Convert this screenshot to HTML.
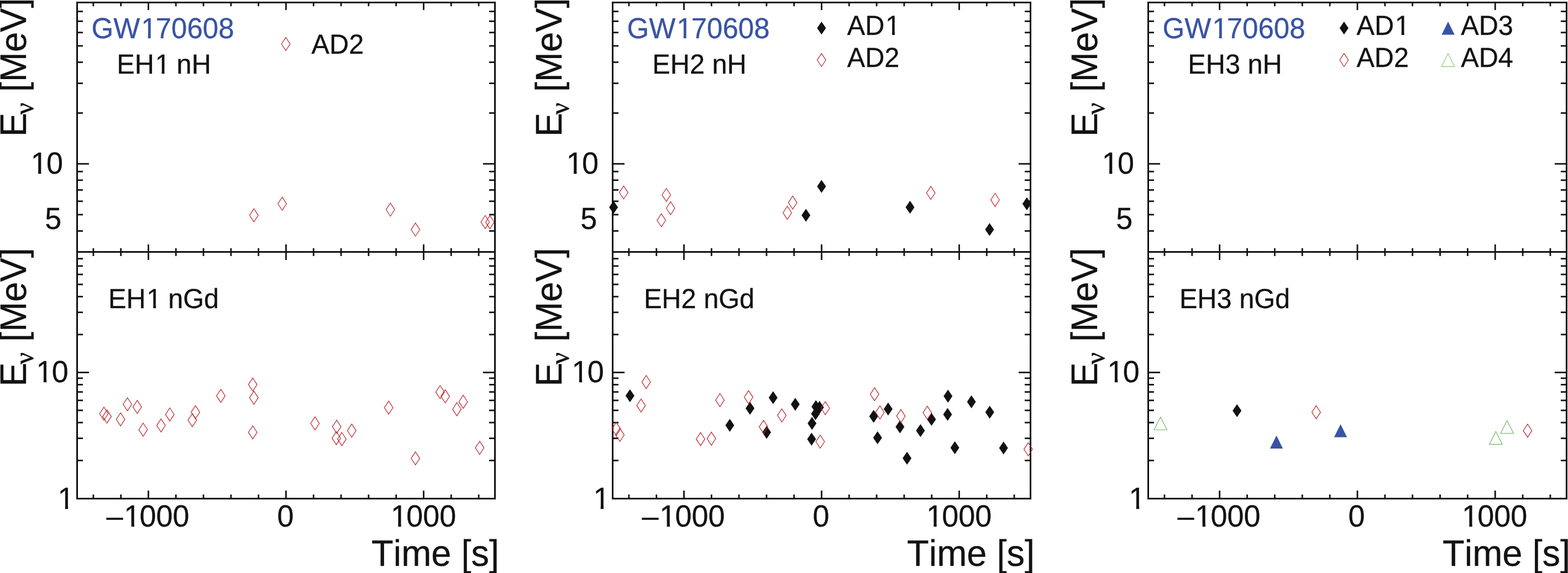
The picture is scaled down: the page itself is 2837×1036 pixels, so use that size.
<!DOCTYPE html>
<html lang="en"><head><meta charset="utf-8"><title>GW170608</title>
<style>html,body{margin:0;padding:0;background:#fff}body{width:2837px;height:1036px}svg{display:block}text{font-kerning:none;text-rendering:geometricPrecision;font-variant-ligatures:none}</style>
</head><body>
<svg width="2837" height="1036" viewBox="0 0 2837 1036" font-family='"Liberation Sans", sans-serif'>
<rect width="2837" height="1036" fill="#fff"/>
<rect x="139.50" y="4.5" width="756.00" height="897.0" fill="none" stroke="#111211" stroke-width="3.0"/>
<line x1="139.50" y1="455.50" x2="895.50" y2="455.50" stroke="#111211" stroke-width="3.0"/>
<line x1="168.90" y1="4.50" x2="168.90" y2="11.30" stroke="#111211" stroke-width="2.8"/>
<line x1="168.90" y1="448.70" x2="168.90" y2="462.90" stroke="#111211" stroke-width="2.8"/>
<line x1="168.90" y1="894.10" x2="168.90" y2="901.50" stroke="#111211" stroke-width="2.8"/>
<line x1="218.70" y1="4.50" x2="218.70" y2="11.30" stroke="#111211" stroke-width="2.8"/>
<line x1="218.70" y1="448.70" x2="218.70" y2="462.90" stroke="#111211" stroke-width="2.8"/>
<line x1="218.70" y1="894.10" x2="218.70" y2="901.50" stroke="#111211" stroke-width="2.8"/>
<line x1="268.50" y1="4.50" x2="268.50" y2="18.20" stroke="#111211" stroke-width="2.8"/>
<line x1="268.50" y1="441.80" x2="268.50" y2="470.00" stroke="#111211" stroke-width="2.8"/>
<line x1="268.50" y1="887.00" x2="268.50" y2="901.50" stroke="#111211" stroke-width="2.8"/>
<line x1="318.30" y1="4.50" x2="318.30" y2="11.30" stroke="#111211" stroke-width="2.8"/>
<line x1="318.30" y1="448.70" x2="318.30" y2="462.90" stroke="#111211" stroke-width="2.8"/>
<line x1="318.30" y1="894.10" x2="318.30" y2="901.50" stroke="#111211" stroke-width="2.8"/>
<line x1="368.10" y1="4.50" x2="368.10" y2="11.30" stroke="#111211" stroke-width="2.8"/>
<line x1="368.10" y1="448.70" x2="368.10" y2="462.90" stroke="#111211" stroke-width="2.8"/>
<line x1="368.10" y1="894.10" x2="368.10" y2="901.50" stroke="#111211" stroke-width="2.8"/>
<line x1="417.90" y1="4.50" x2="417.90" y2="11.30" stroke="#111211" stroke-width="2.8"/>
<line x1="417.90" y1="448.70" x2="417.90" y2="462.90" stroke="#111211" stroke-width="2.8"/>
<line x1="417.90" y1="894.10" x2="417.90" y2="901.50" stroke="#111211" stroke-width="2.8"/>
<line x1="467.70" y1="4.50" x2="467.70" y2="11.30" stroke="#111211" stroke-width="2.8"/>
<line x1="467.70" y1="448.70" x2="467.70" y2="462.90" stroke="#111211" stroke-width="2.8"/>
<line x1="467.70" y1="894.10" x2="467.70" y2="901.50" stroke="#111211" stroke-width="2.8"/>
<line x1="517.50" y1="4.50" x2="517.50" y2="18.20" stroke="#111211" stroke-width="2.8"/>
<line x1="517.50" y1="441.80" x2="517.50" y2="470.00" stroke="#111211" stroke-width="2.8"/>
<line x1="517.50" y1="887.00" x2="517.50" y2="901.50" stroke="#111211" stroke-width="2.8"/>
<line x1="567.30" y1="4.50" x2="567.30" y2="11.30" stroke="#111211" stroke-width="2.8"/>
<line x1="567.30" y1="448.70" x2="567.30" y2="462.90" stroke="#111211" stroke-width="2.8"/>
<line x1="567.30" y1="894.10" x2="567.30" y2="901.50" stroke="#111211" stroke-width="2.8"/>
<line x1="617.10" y1="4.50" x2="617.10" y2="11.30" stroke="#111211" stroke-width="2.8"/>
<line x1="617.10" y1="448.70" x2="617.10" y2="462.90" stroke="#111211" stroke-width="2.8"/>
<line x1="617.10" y1="894.10" x2="617.10" y2="901.50" stroke="#111211" stroke-width="2.8"/>
<line x1="666.90" y1="4.50" x2="666.90" y2="11.30" stroke="#111211" stroke-width="2.8"/>
<line x1="666.90" y1="448.70" x2="666.90" y2="462.90" stroke="#111211" stroke-width="2.8"/>
<line x1="666.90" y1="894.10" x2="666.90" y2="901.50" stroke="#111211" stroke-width="2.8"/>
<line x1="716.70" y1="4.50" x2="716.70" y2="11.30" stroke="#111211" stroke-width="2.8"/>
<line x1="716.70" y1="448.70" x2="716.70" y2="462.90" stroke="#111211" stroke-width="2.8"/>
<line x1="716.70" y1="894.10" x2="716.70" y2="901.50" stroke="#111211" stroke-width="2.8"/>
<line x1="766.50" y1="4.50" x2="766.50" y2="18.20" stroke="#111211" stroke-width="2.8"/>
<line x1="766.50" y1="441.80" x2="766.50" y2="470.00" stroke="#111211" stroke-width="2.8"/>
<line x1="766.50" y1="887.00" x2="766.50" y2="901.50" stroke="#111211" stroke-width="2.8"/>
<line x1="816.30" y1="4.50" x2="816.30" y2="11.30" stroke="#111211" stroke-width="2.8"/>
<line x1="816.30" y1="448.70" x2="816.30" y2="462.90" stroke="#111211" stroke-width="2.8"/>
<line x1="816.30" y1="894.10" x2="816.30" y2="901.50" stroke="#111211" stroke-width="2.8"/>
<line x1="866.10" y1="4.50" x2="866.10" y2="11.30" stroke="#111211" stroke-width="2.8"/>
<line x1="866.10" y1="448.70" x2="866.10" y2="462.90" stroke="#111211" stroke-width="2.8"/>
<line x1="866.10" y1="894.10" x2="866.10" y2="901.50" stroke="#111211" stroke-width="2.8"/>
<line x1="139.50" y1="417.60" x2="150.00" y2="417.60" stroke="#111211" stroke-width="2.8"/>
<line x1="885.00" y1="417.60" x2="895.50" y2="417.60" stroke="#111211" stroke-width="2.8"/>
<line x1="139.50" y1="388.04" x2="150.00" y2="388.04" stroke="#111211" stroke-width="2.8"/>
<line x1="885.00" y1="388.04" x2="895.50" y2="388.04" stroke="#111211" stroke-width="2.8"/>
<line x1="139.50" y1="363.88" x2="150.00" y2="363.88" stroke="#111211" stroke-width="2.8"/>
<line x1="885.00" y1="363.88" x2="895.50" y2="363.88" stroke="#111211" stroke-width="2.8"/>
<line x1="139.50" y1="343.46" x2="150.00" y2="343.46" stroke="#111211" stroke-width="2.8"/>
<line x1="885.00" y1="343.46" x2="895.50" y2="343.46" stroke="#111211" stroke-width="2.8"/>
<line x1="139.50" y1="325.76" x2="150.00" y2="325.76" stroke="#111211" stroke-width="2.8"/>
<line x1="885.00" y1="325.76" x2="895.50" y2="325.76" stroke="#111211" stroke-width="2.8"/>
<line x1="139.50" y1="310.16" x2="150.00" y2="310.16" stroke="#111211" stroke-width="2.8"/>
<line x1="885.00" y1="310.16" x2="895.50" y2="310.16" stroke="#111211" stroke-width="2.8"/>
<line x1="139.50" y1="296.20" x2="161.00" y2="296.20" stroke="#111211" stroke-width="2.8"/>
<line x1="874.00" y1="296.20" x2="895.50" y2="296.20" stroke="#111211" stroke-width="2.8"/>
<line x1="139.50" y1="204.36" x2="150.00" y2="204.36" stroke="#111211" stroke-width="2.8"/>
<line x1="885.00" y1="204.36" x2="895.50" y2="204.36" stroke="#111211" stroke-width="2.8"/>
<line x1="139.50" y1="150.64" x2="150.00" y2="150.64" stroke="#111211" stroke-width="2.8"/>
<line x1="885.00" y1="150.64" x2="895.50" y2="150.64" stroke="#111211" stroke-width="2.8"/>
<line x1="139.50" y1="112.53" x2="150.00" y2="112.53" stroke="#111211" stroke-width="2.8"/>
<line x1="885.00" y1="112.53" x2="895.50" y2="112.53" stroke="#111211" stroke-width="2.8"/>
<line x1="139.50" y1="82.97" x2="150.00" y2="82.97" stroke="#111211" stroke-width="2.8"/>
<line x1="885.00" y1="82.97" x2="895.50" y2="82.97" stroke="#111211" stroke-width="2.8"/>
<line x1="139.50" y1="58.81" x2="150.00" y2="58.81" stroke="#111211" stroke-width="2.8"/>
<line x1="885.00" y1="58.81" x2="895.50" y2="58.81" stroke="#111211" stroke-width="2.8"/>
<line x1="139.50" y1="38.39" x2="150.00" y2="38.39" stroke="#111211" stroke-width="2.8"/>
<line x1="885.00" y1="38.39" x2="895.50" y2="38.39" stroke="#111211" stroke-width="2.8"/>
<line x1="139.50" y1="20.69" x2="150.00" y2="20.69" stroke="#111211" stroke-width="2.8"/>
<line x1="885.00" y1="20.69" x2="895.50" y2="20.69" stroke="#111211" stroke-width="2.8"/>
<line x1="139.50" y1="832.60" x2="150.00" y2="832.60" stroke="#111211" stroke-width="2.8"/>
<line x1="885.00" y1="832.60" x2="895.50" y2="832.60" stroke="#111211" stroke-width="2.8"/>
<line x1="139.50" y1="792.49" x2="150.00" y2="792.49" stroke="#111211" stroke-width="2.8"/>
<line x1="885.00" y1="792.49" x2="895.50" y2="792.49" stroke="#111211" stroke-width="2.8"/>
<line x1="139.50" y1="764.03" x2="150.00" y2="764.03" stroke="#111211" stroke-width="2.8"/>
<line x1="885.00" y1="764.03" x2="895.50" y2="764.03" stroke="#111211" stroke-width="2.8"/>
<line x1="139.50" y1="741.96" x2="150.00" y2="741.96" stroke="#111211" stroke-width="2.8"/>
<line x1="885.00" y1="741.96" x2="895.50" y2="741.96" stroke="#111211" stroke-width="2.8"/>
<line x1="139.50" y1="723.93" x2="150.00" y2="723.93" stroke="#111211" stroke-width="2.8"/>
<line x1="885.00" y1="723.93" x2="895.50" y2="723.93" stroke="#111211" stroke-width="2.8"/>
<line x1="139.50" y1="708.68" x2="150.00" y2="708.68" stroke="#111211" stroke-width="2.8"/>
<line x1="885.00" y1="708.68" x2="895.50" y2="708.68" stroke="#111211" stroke-width="2.8"/>
<line x1="139.50" y1="695.47" x2="150.00" y2="695.47" stroke="#111211" stroke-width="2.8"/>
<line x1="885.00" y1="695.47" x2="895.50" y2="695.47" stroke="#111211" stroke-width="2.8"/>
<line x1="139.50" y1="683.82" x2="150.00" y2="683.82" stroke="#111211" stroke-width="2.8"/>
<line x1="885.00" y1="683.82" x2="895.50" y2="683.82" stroke="#111211" stroke-width="2.8"/>
<line x1="139.50" y1="673.40" x2="161.00" y2="673.40" stroke="#111211" stroke-width="2.8"/>
<line x1="874.00" y1="673.40" x2="895.50" y2="673.40" stroke="#111211" stroke-width="2.8"/>
<line x1="139.50" y1="604.84" x2="150.00" y2="604.84" stroke="#111211" stroke-width="2.8"/>
<line x1="885.00" y1="604.84" x2="895.50" y2="604.84" stroke="#111211" stroke-width="2.8"/>
<line x1="139.50" y1="564.73" x2="150.00" y2="564.73" stroke="#111211" stroke-width="2.8"/>
<line x1="885.00" y1="564.73" x2="895.50" y2="564.73" stroke="#111211" stroke-width="2.8"/>
<line x1="139.50" y1="536.27" x2="150.00" y2="536.27" stroke="#111211" stroke-width="2.8"/>
<line x1="885.00" y1="536.27" x2="895.50" y2="536.27" stroke="#111211" stroke-width="2.8"/>
<line x1="139.50" y1="514.20" x2="150.00" y2="514.20" stroke="#111211" stroke-width="2.8"/>
<line x1="885.00" y1="514.20" x2="895.50" y2="514.20" stroke="#111211" stroke-width="2.8"/>
<line x1="139.50" y1="496.17" x2="150.00" y2="496.17" stroke="#111211" stroke-width="2.8"/>
<line x1="885.00" y1="496.17" x2="895.50" y2="496.17" stroke="#111211" stroke-width="2.8"/>
<line x1="139.50" y1="480.92" x2="150.00" y2="480.92" stroke="#111211" stroke-width="2.8"/>
<line x1="885.00" y1="480.92" x2="895.50" y2="480.92" stroke="#111211" stroke-width="2.8"/>
<line x1="139.50" y1="467.71" x2="150.00" y2="467.71" stroke="#111211" stroke-width="2.8"/>
<line x1="885.00" y1="467.71" x2="895.50" y2="467.71" stroke="#111211" stroke-width="2.8"/>
<text transform="translate(53.84 314.00) scale(1 1.025)" dx="1.92 -1.92" font-size="54" fill="#111211" stroke="#111211" stroke-width="0.3" clip-path="url(#c0)">10</text>
<text transform="translate(81.17 414.00) scale(1 1.025)" font-size="54" fill="#111211" stroke="#111211" stroke-width="0.3">5</text>
<text transform="translate(63.64 691.00) scale(1 1.025)" dx="1.92 -1.92" font-size="54" fill="#111211" stroke="#111211" stroke-width="0.3" clip-path="url(#c1)">10</text>
<text transform="translate(102.57 919.95) scale(1 1.025)" dx="1.92" font-size="54" fill="#111211" stroke="#111211" stroke-width="0.3" clip-path="url(#c2)">1</text>
<text transform="translate(192.42 951.50) scale(1 1.025)" dx="0 1.92 -1.92 0 0" font-size="54" fill="#111211" stroke="#111211" stroke-width="0.3" clip-path="url(#c3)">–1000</text>
<text transform="translate(501.38 951.50) scale(1 1.025)" font-size="54" fill="#111211" stroke="#111211" stroke-width="0.3">0</text>
<text transform="translate(705.14 951.50) scale(1 1.025)" dx="1.92 -1.92 0 0" font-size="54" fill="#111211" stroke="#111211" stroke-width="0.3" clip-path="url(#c4)">1000</text>
<text transform="translate(671.98 1022.90) scale(1 1.025)" font-size="65" fill="#111211" stroke="#111211" stroke-width="0.3">Time [s]</text>
<text transform="translate(46.55 247.20) rotate(-90) scale(1 1.03)" font-size="65" fill="#111211" stroke="#111211" stroke-width="0.3">E<tspan x="40.2" dy="12.91" font-size="47" stroke-width="0.6" font-family='"Liberation Serif", "DejaVu Serif", serif'>ν</tspan><tspan x="62.84" dy="-12.91"> [MeV]</tspan></text>
<text transform="translate(46.55 698.80) rotate(-90) scale(1 1.03)" font-size="65" fill="#111211" stroke="#111211" stroke-width="0.3">E<tspan x="40.2" dy="12.91" font-size="47" stroke-width="0.6" font-family='"Liberation Serif", "DejaVu Serif", serif'>ν</tspan><tspan x="62.84" dy="-12.91"> [MeV]</tspan></text>
<text transform="translate(165.50 68.95) scale(1 1.025)" dx="0 0 1.82 -1.82 0 0 0 0" font-size="51" fill="#3953a4" stroke="#3953a4" stroke-width="0.3" clip-path="url(#c5)">GW170608</text>
<text transform="translate(211.30 132.55) scale(1 1.025)" dx="0 0 1.73 -1.73 0 0" font-size="48.7" fill="#111211" stroke="#111211" stroke-width="0.3" clip-path="url(#c6)">EH1 nH</text>
<text transform="translate(195.90 556.65) scale(1 1.025)" dx="0 0 1.73 -1.73 0 0 0" font-size="48.7" fill="#111211" stroke="#111211" stroke-width="0.3" clip-path="url(#c7)">EH1 nGd</text>
<rect x="1108.50" y="4.5" width="756.00" height="897.0" fill="none" stroke="#111211" stroke-width="3.0"/>
<line x1="1108.50" y1="455.50" x2="1864.50" y2="455.50" stroke="#111211" stroke-width="3.0"/>
<line x1="1137.90" y1="4.50" x2="1137.90" y2="11.30" stroke="#111211" stroke-width="2.8"/>
<line x1="1137.90" y1="448.70" x2="1137.90" y2="462.90" stroke="#111211" stroke-width="2.8"/>
<line x1="1137.90" y1="894.10" x2="1137.90" y2="901.50" stroke="#111211" stroke-width="2.8"/>
<line x1="1187.70" y1="4.50" x2="1187.70" y2="11.30" stroke="#111211" stroke-width="2.8"/>
<line x1="1187.70" y1="448.70" x2="1187.70" y2="462.90" stroke="#111211" stroke-width="2.8"/>
<line x1="1187.70" y1="894.10" x2="1187.70" y2="901.50" stroke="#111211" stroke-width="2.8"/>
<line x1="1237.50" y1="4.50" x2="1237.50" y2="18.20" stroke="#111211" stroke-width="2.8"/>
<line x1="1237.50" y1="441.80" x2="1237.50" y2="470.00" stroke="#111211" stroke-width="2.8"/>
<line x1="1237.50" y1="887.00" x2="1237.50" y2="901.50" stroke="#111211" stroke-width="2.8"/>
<line x1="1287.30" y1="4.50" x2="1287.30" y2="11.30" stroke="#111211" stroke-width="2.8"/>
<line x1="1287.30" y1="448.70" x2="1287.30" y2="462.90" stroke="#111211" stroke-width="2.8"/>
<line x1="1287.30" y1="894.10" x2="1287.30" y2="901.50" stroke="#111211" stroke-width="2.8"/>
<line x1="1337.10" y1="4.50" x2="1337.10" y2="11.30" stroke="#111211" stroke-width="2.8"/>
<line x1="1337.10" y1="448.70" x2="1337.10" y2="462.90" stroke="#111211" stroke-width="2.8"/>
<line x1="1337.10" y1="894.10" x2="1337.10" y2="901.50" stroke="#111211" stroke-width="2.8"/>
<line x1="1386.90" y1="4.50" x2="1386.90" y2="11.30" stroke="#111211" stroke-width="2.8"/>
<line x1="1386.90" y1="448.70" x2="1386.90" y2="462.90" stroke="#111211" stroke-width="2.8"/>
<line x1="1386.90" y1="894.10" x2="1386.90" y2="901.50" stroke="#111211" stroke-width="2.8"/>
<line x1="1436.70" y1="4.50" x2="1436.70" y2="11.30" stroke="#111211" stroke-width="2.8"/>
<line x1="1436.70" y1="448.70" x2="1436.70" y2="462.90" stroke="#111211" stroke-width="2.8"/>
<line x1="1436.70" y1="894.10" x2="1436.70" y2="901.50" stroke="#111211" stroke-width="2.8"/>
<line x1="1486.50" y1="4.50" x2="1486.50" y2="18.20" stroke="#111211" stroke-width="2.8"/>
<line x1="1486.50" y1="441.80" x2="1486.50" y2="470.00" stroke="#111211" stroke-width="2.8"/>
<line x1="1486.50" y1="887.00" x2="1486.50" y2="901.50" stroke="#111211" stroke-width="2.8"/>
<line x1="1536.30" y1="4.50" x2="1536.30" y2="11.30" stroke="#111211" stroke-width="2.8"/>
<line x1="1536.30" y1="448.70" x2="1536.30" y2="462.90" stroke="#111211" stroke-width="2.8"/>
<line x1="1536.30" y1="894.10" x2="1536.30" y2="901.50" stroke="#111211" stroke-width="2.8"/>
<line x1="1586.10" y1="4.50" x2="1586.10" y2="11.30" stroke="#111211" stroke-width="2.8"/>
<line x1="1586.10" y1="448.70" x2="1586.10" y2="462.90" stroke="#111211" stroke-width="2.8"/>
<line x1="1586.10" y1="894.10" x2="1586.10" y2="901.50" stroke="#111211" stroke-width="2.8"/>
<line x1="1635.90" y1="4.50" x2="1635.90" y2="11.30" stroke="#111211" stroke-width="2.8"/>
<line x1="1635.90" y1="448.70" x2="1635.90" y2="462.90" stroke="#111211" stroke-width="2.8"/>
<line x1="1635.90" y1="894.10" x2="1635.90" y2="901.50" stroke="#111211" stroke-width="2.8"/>
<line x1="1685.70" y1="4.50" x2="1685.70" y2="11.30" stroke="#111211" stroke-width="2.8"/>
<line x1="1685.70" y1="448.70" x2="1685.70" y2="462.90" stroke="#111211" stroke-width="2.8"/>
<line x1="1685.70" y1="894.10" x2="1685.70" y2="901.50" stroke="#111211" stroke-width="2.8"/>
<line x1="1735.50" y1="4.50" x2="1735.50" y2="18.20" stroke="#111211" stroke-width="2.8"/>
<line x1="1735.50" y1="441.80" x2="1735.50" y2="470.00" stroke="#111211" stroke-width="2.8"/>
<line x1="1735.50" y1="887.00" x2="1735.50" y2="901.50" stroke="#111211" stroke-width="2.8"/>
<line x1="1785.30" y1="4.50" x2="1785.30" y2="11.30" stroke="#111211" stroke-width="2.8"/>
<line x1="1785.30" y1="448.70" x2="1785.30" y2="462.90" stroke="#111211" stroke-width="2.8"/>
<line x1="1785.30" y1="894.10" x2="1785.30" y2="901.50" stroke="#111211" stroke-width="2.8"/>
<line x1="1835.10" y1="4.50" x2="1835.10" y2="11.30" stroke="#111211" stroke-width="2.8"/>
<line x1="1835.10" y1="448.70" x2="1835.10" y2="462.90" stroke="#111211" stroke-width="2.8"/>
<line x1="1835.10" y1="894.10" x2="1835.10" y2="901.50" stroke="#111211" stroke-width="2.8"/>
<line x1="1108.50" y1="417.60" x2="1119.00" y2="417.60" stroke="#111211" stroke-width="2.8"/>
<line x1="1854.00" y1="417.60" x2="1864.50" y2="417.60" stroke="#111211" stroke-width="2.8"/>
<line x1="1108.50" y1="388.04" x2="1119.00" y2="388.04" stroke="#111211" stroke-width="2.8"/>
<line x1="1854.00" y1="388.04" x2="1864.50" y2="388.04" stroke="#111211" stroke-width="2.8"/>
<line x1="1108.50" y1="363.88" x2="1119.00" y2="363.88" stroke="#111211" stroke-width="2.8"/>
<line x1="1854.00" y1="363.88" x2="1864.50" y2="363.88" stroke="#111211" stroke-width="2.8"/>
<line x1="1108.50" y1="343.46" x2="1119.00" y2="343.46" stroke="#111211" stroke-width="2.8"/>
<line x1="1854.00" y1="343.46" x2="1864.50" y2="343.46" stroke="#111211" stroke-width="2.8"/>
<line x1="1108.50" y1="325.76" x2="1119.00" y2="325.76" stroke="#111211" stroke-width="2.8"/>
<line x1="1854.00" y1="325.76" x2="1864.50" y2="325.76" stroke="#111211" stroke-width="2.8"/>
<line x1="1108.50" y1="310.16" x2="1119.00" y2="310.16" stroke="#111211" stroke-width="2.8"/>
<line x1="1854.00" y1="310.16" x2="1864.50" y2="310.16" stroke="#111211" stroke-width="2.8"/>
<line x1="1108.50" y1="296.20" x2="1130.00" y2="296.20" stroke="#111211" stroke-width="2.8"/>
<line x1="1843.00" y1="296.20" x2="1864.50" y2="296.20" stroke="#111211" stroke-width="2.8"/>
<line x1="1108.50" y1="204.36" x2="1119.00" y2="204.36" stroke="#111211" stroke-width="2.8"/>
<line x1="1854.00" y1="204.36" x2="1864.50" y2="204.36" stroke="#111211" stroke-width="2.8"/>
<line x1="1108.50" y1="150.64" x2="1119.00" y2="150.64" stroke="#111211" stroke-width="2.8"/>
<line x1="1854.00" y1="150.64" x2="1864.50" y2="150.64" stroke="#111211" stroke-width="2.8"/>
<line x1="1108.50" y1="112.53" x2="1119.00" y2="112.53" stroke="#111211" stroke-width="2.8"/>
<line x1="1854.00" y1="112.53" x2="1864.50" y2="112.53" stroke="#111211" stroke-width="2.8"/>
<line x1="1108.50" y1="82.97" x2="1119.00" y2="82.97" stroke="#111211" stroke-width="2.8"/>
<line x1="1854.00" y1="82.97" x2="1864.50" y2="82.97" stroke="#111211" stroke-width="2.8"/>
<line x1="1108.50" y1="58.81" x2="1119.00" y2="58.81" stroke="#111211" stroke-width="2.8"/>
<line x1="1854.00" y1="58.81" x2="1864.50" y2="58.81" stroke="#111211" stroke-width="2.8"/>
<line x1="1108.50" y1="38.39" x2="1119.00" y2="38.39" stroke="#111211" stroke-width="2.8"/>
<line x1="1854.00" y1="38.39" x2="1864.50" y2="38.39" stroke="#111211" stroke-width="2.8"/>
<line x1="1108.50" y1="20.69" x2="1119.00" y2="20.69" stroke="#111211" stroke-width="2.8"/>
<line x1="1854.00" y1="20.69" x2="1864.50" y2="20.69" stroke="#111211" stroke-width="2.8"/>
<line x1="1108.50" y1="832.60" x2="1119.00" y2="832.60" stroke="#111211" stroke-width="2.8"/>
<line x1="1854.00" y1="832.60" x2="1864.50" y2="832.60" stroke="#111211" stroke-width="2.8"/>
<line x1="1108.50" y1="792.49" x2="1119.00" y2="792.49" stroke="#111211" stroke-width="2.8"/>
<line x1="1854.00" y1="792.49" x2="1864.50" y2="792.49" stroke="#111211" stroke-width="2.8"/>
<line x1="1108.50" y1="764.03" x2="1119.00" y2="764.03" stroke="#111211" stroke-width="2.8"/>
<line x1="1854.00" y1="764.03" x2="1864.50" y2="764.03" stroke="#111211" stroke-width="2.8"/>
<line x1="1108.50" y1="741.96" x2="1119.00" y2="741.96" stroke="#111211" stroke-width="2.8"/>
<line x1="1854.00" y1="741.96" x2="1864.50" y2="741.96" stroke="#111211" stroke-width="2.8"/>
<line x1="1108.50" y1="723.93" x2="1119.00" y2="723.93" stroke="#111211" stroke-width="2.8"/>
<line x1="1854.00" y1="723.93" x2="1864.50" y2="723.93" stroke="#111211" stroke-width="2.8"/>
<line x1="1108.50" y1="708.68" x2="1119.00" y2="708.68" stroke="#111211" stroke-width="2.8"/>
<line x1="1854.00" y1="708.68" x2="1864.50" y2="708.68" stroke="#111211" stroke-width="2.8"/>
<line x1="1108.50" y1="695.47" x2="1119.00" y2="695.47" stroke="#111211" stroke-width="2.8"/>
<line x1="1854.00" y1="695.47" x2="1864.50" y2="695.47" stroke="#111211" stroke-width="2.8"/>
<line x1="1108.50" y1="683.82" x2="1119.00" y2="683.82" stroke="#111211" stroke-width="2.8"/>
<line x1="1854.00" y1="683.82" x2="1864.50" y2="683.82" stroke="#111211" stroke-width="2.8"/>
<line x1="1108.50" y1="673.40" x2="1130.00" y2="673.40" stroke="#111211" stroke-width="2.8"/>
<line x1="1843.00" y1="673.40" x2="1864.50" y2="673.40" stroke="#111211" stroke-width="2.8"/>
<line x1="1108.50" y1="604.84" x2="1119.00" y2="604.84" stroke="#111211" stroke-width="2.8"/>
<line x1="1854.00" y1="604.84" x2="1864.50" y2="604.84" stroke="#111211" stroke-width="2.8"/>
<line x1="1108.50" y1="564.73" x2="1119.00" y2="564.73" stroke="#111211" stroke-width="2.8"/>
<line x1="1854.00" y1="564.73" x2="1864.50" y2="564.73" stroke="#111211" stroke-width="2.8"/>
<line x1="1108.50" y1="536.27" x2="1119.00" y2="536.27" stroke="#111211" stroke-width="2.8"/>
<line x1="1854.00" y1="536.27" x2="1864.50" y2="536.27" stroke="#111211" stroke-width="2.8"/>
<line x1="1108.50" y1="514.20" x2="1119.00" y2="514.20" stroke="#111211" stroke-width="2.8"/>
<line x1="1854.00" y1="514.20" x2="1864.50" y2="514.20" stroke="#111211" stroke-width="2.8"/>
<line x1="1108.50" y1="496.17" x2="1119.00" y2="496.17" stroke="#111211" stroke-width="2.8"/>
<line x1="1854.00" y1="496.17" x2="1864.50" y2="496.17" stroke="#111211" stroke-width="2.8"/>
<line x1="1108.50" y1="480.92" x2="1119.00" y2="480.92" stroke="#111211" stroke-width="2.8"/>
<line x1="1854.00" y1="480.92" x2="1864.50" y2="480.92" stroke="#111211" stroke-width="2.8"/>
<line x1="1108.50" y1="467.71" x2="1119.00" y2="467.71" stroke="#111211" stroke-width="2.8"/>
<line x1="1854.00" y1="467.71" x2="1864.50" y2="467.71" stroke="#111211" stroke-width="2.8"/>
<text transform="translate(1022.84 314.00) scale(1 1.025)" dx="1.92 -1.92" font-size="54" fill="#111211" stroke="#111211" stroke-width="0.3" clip-path="url(#c8)">10</text>
<text transform="translate(1050.17 414.00) scale(1 1.025)" font-size="54" fill="#111211" stroke="#111211" stroke-width="0.3">5</text>
<text transform="translate(1032.64 691.00) scale(1 1.025)" dx="1.92 -1.92" font-size="54" fill="#111211" stroke="#111211" stroke-width="0.3" clip-path="url(#c9)">10</text>
<text transform="translate(1071.57 919.95) scale(1 1.025)" dx="1.92" font-size="54" fill="#111211" stroke="#111211" stroke-width="0.3" clip-path="url(#c10)">1</text>
<text transform="translate(1161.42 951.50) scale(1 1.025)" dx="0 1.92 -1.92 0 0" font-size="54" fill="#111211" stroke="#111211" stroke-width="0.3" clip-path="url(#c11)">–1000</text>
<text transform="translate(1470.38 951.50) scale(1 1.025)" font-size="54" fill="#111211" stroke="#111211" stroke-width="0.3">0</text>
<text transform="translate(1674.14 951.50) scale(1 1.025)" dx="1.92 -1.92 0 0" font-size="54" fill="#111211" stroke="#111211" stroke-width="0.3" clip-path="url(#c12)">1000</text>
<text transform="translate(1640.98 1022.90) scale(1 1.025)" font-size="65" fill="#111211" stroke="#111211" stroke-width="0.3">Time [s]</text>
<text transform="translate(1015.55 247.20) rotate(-90) scale(1 1.03)" font-size="65" fill="#111211" stroke="#111211" stroke-width="0.3">E<tspan x="40.2" dy="12.91" font-size="47" stroke-width="0.6" font-family='"Liberation Serif", "DejaVu Serif", serif'>ν</tspan><tspan x="62.84" dy="-12.91"> [MeV]</tspan></text>
<text transform="translate(1015.55 698.80) rotate(-90) scale(1 1.03)" font-size="65" fill="#111211" stroke="#111211" stroke-width="0.3">E<tspan x="40.2" dy="12.91" font-size="47" stroke-width="0.6" font-family='"Liberation Serif", "DejaVu Serif", serif'>ν</tspan><tspan x="62.84" dy="-12.91"> [MeV]</tspan></text>
<text transform="translate(1134.50 68.95) scale(1 1.025)" dx="0 0 1.82 -1.82 0 0 0 0" font-size="51" fill="#3953a4" stroke="#3953a4" stroke-width="0.3" clip-path="url(#c13)">GW170608</text>
<text transform="translate(1180.30 132.55) scale(1 1.025)" font-size="48.7" fill="#111211" stroke="#111211" stroke-width="0.3">EH2 nH</text>
<text transform="translate(1164.90 556.65) scale(1 1.025)" font-size="48.7" fill="#111211" stroke="#111211" stroke-width="0.3">EH2 nGd</text>
<rect x="2077.50" y="4.5" width="756.90" height="897.0" fill="none" stroke="#111211" stroke-width="3.0"/>
<line x1="2077.50" y1="455.50" x2="2834.40" y2="455.50" stroke="#111211" stroke-width="3.0"/>
<line x1="2106.93" y1="4.50" x2="2106.93" y2="11.30" stroke="#111211" stroke-width="2.8"/>
<line x1="2106.93" y1="448.70" x2="2106.93" y2="462.90" stroke="#111211" stroke-width="2.8"/>
<line x1="2106.93" y1="894.10" x2="2106.93" y2="901.50" stroke="#111211" stroke-width="2.8"/>
<line x1="2156.79" y1="4.50" x2="2156.79" y2="11.30" stroke="#111211" stroke-width="2.8"/>
<line x1="2156.79" y1="448.70" x2="2156.79" y2="462.90" stroke="#111211" stroke-width="2.8"/>
<line x1="2156.79" y1="894.10" x2="2156.79" y2="901.50" stroke="#111211" stroke-width="2.8"/>
<line x1="2206.65" y1="4.50" x2="2206.65" y2="18.20" stroke="#111211" stroke-width="2.8"/>
<line x1="2206.65" y1="441.80" x2="2206.65" y2="470.00" stroke="#111211" stroke-width="2.8"/>
<line x1="2206.65" y1="887.00" x2="2206.65" y2="901.50" stroke="#111211" stroke-width="2.8"/>
<line x1="2256.51" y1="4.50" x2="2256.51" y2="11.30" stroke="#111211" stroke-width="2.8"/>
<line x1="2256.51" y1="448.70" x2="2256.51" y2="462.90" stroke="#111211" stroke-width="2.8"/>
<line x1="2256.51" y1="894.10" x2="2256.51" y2="901.50" stroke="#111211" stroke-width="2.8"/>
<line x1="2306.37" y1="4.50" x2="2306.37" y2="11.30" stroke="#111211" stroke-width="2.8"/>
<line x1="2306.37" y1="448.70" x2="2306.37" y2="462.90" stroke="#111211" stroke-width="2.8"/>
<line x1="2306.37" y1="894.10" x2="2306.37" y2="901.50" stroke="#111211" stroke-width="2.8"/>
<line x1="2356.23" y1="4.50" x2="2356.23" y2="11.30" stroke="#111211" stroke-width="2.8"/>
<line x1="2356.23" y1="448.70" x2="2356.23" y2="462.90" stroke="#111211" stroke-width="2.8"/>
<line x1="2356.23" y1="894.10" x2="2356.23" y2="901.50" stroke="#111211" stroke-width="2.8"/>
<line x1="2406.09" y1="4.50" x2="2406.09" y2="11.30" stroke="#111211" stroke-width="2.8"/>
<line x1="2406.09" y1="448.70" x2="2406.09" y2="462.90" stroke="#111211" stroke-width="2.8"/>
<line x1="2406.09" y1="894.10" x2="2406.09" y2="901.50" stroke="#111211" stroke-width="2.8"/>
<line x1="2455.95" y1="4.50" x2="2455.95" y2="18.20" stroke="#111211" stroke-width="2.8"/>
<line x1="2455.95" y1="441.80" x2="2455.95" y2="470.00" stroke="#111211" stroke-width="2.8"/>
<line x1="2455.95" y1="887.00" x2="2455.95" y2="901.50" stroke="#111211" stroke-width="2.8"/>
<line x1="2505.81" y1="4.50" x2="2505.81" y2="11.30" stroke="#111211" stroke-width="2.8"/>
<line x1="2505.81" y1="448.70" x2="2505.81" y2="462.90" stroke="#111211" stroke-width="2.8"/>
<line x1="2505.81" y1="894.10" x2="2505.81" y2="901.50" stroke="#111211" stroke-width="2.8"/>
<line x1="2555.67" y1="4.50" x2="2555.67" y2="11.30" stroke="#111211" stroke-width="2.8"/>
<line x1="2555.67" y1="448.70" x2="2555.67" y2="462.90" stroke="#111211" stroke-width="2.8"/>
<line x1="2555.67" y1="894.10" x2="2555.67" y2="901.50" stroke="#111211" stroke-width="2.8"/>
<line x1="2605.53" y1="4.50" x2="2605.53" y2="11.30" stroke="#111211" stroke-width="2.8"/>
<line x1="2605.53" y1="448.70" x2="2605.53" y2="462.90" stroke="#111211" stroke-width="2.8"/>
<line x1="2605.53" y1="894.10" x2="2605.53" y2="901.50" stroke="#111211" stroke-width="2.8"/>
<line x1="2655.39" y1="4.50" x2="2655.39" y2="11.30" stroke="#111211" stroke-width="2.8"/>
<line x1="2655.39" y1="448.70" x2="2655.39" y2="462.90" stroke="#111211" stroke-width="2.8"/>
<line x1="2655.39" y1="894.10" x2="2655.39" y2="901.50" stroke="#111211" stroke-width="2.8"/>
<line x1="2705.25" y1="4.50" x2="2705.25" y2="18.20" stroke="#111211" stroke-width="2.8"/>
<line x1="2705.25" y1="441.80" x2="2705.25" y2="470.00" stroke="#111211" stroke-width="2.8"/>
<line x1="2705.25" y1="887.00" x2="2705.25" y2="901.50" stroke="#111211" stroke-width="2.8"/>
<line x1="2755.11" y1="4.50" x2="2755.11" y2="11.30" stroke="#111211" stroke-width="2.8"/>
<line x1="2755.11" y1="448.70" x2="2755.11" y2="462.90" stroke="#111211" stroke-width="2.8"/>
<line x1="2755.11" y1="894.10" x2="2755.11" y2="901.50" stroke="#111211" stroke-width="2.8"/>
<line x1="2804.96" y1="4.50" x2="2804.96" y2="11.30" stroke="#111211" stroke-width="2.8"/>
<line x1="2804.96" y1="448.70" x2="2804.96" y2="462.90" stroke="#111211" stroke-width="2.8"/>
<line x1="2804.96" y1="894.10" x2="2804.96" y2="901.50" stroke="#111211" stroke-width="2.8"/>
<line x1="2077.50" y1="417.60" x2="2088.00" y2="417.60" stroke="#111211" stroke-width="2.8"/>
<line x1="2823.90" y1="417.60" x2="2834.40" y2="417.60" stroke="#111211" stroke-width="2.8"/>
<line x1="2077.50" y1="388.04" x2="2088.00" y2="388.04" stroke="#111211" stroke-width="2.8"/>
<line x1="2823.90" y1="388.04" x2="2834.40" y2="388.04" stroke="#111211" stroke-width="2.8"/>
<line x1="2077.50" y1="363.88" x2="2088.00" y2="363.88" stroke="#111211" stroke-width="2.8"/>
<line x1="2823.90" y1="363.88" x2="2834.40" y2="363.88" stroke="#111211" stroke-width="2.8"/>
<line x1="2077.50" y1="343.46" x2="2088.00" y2="343.46" stroke="#111211" stroke-width="2.8"/>
<line x1="2823.90" y1="343.46" x2="2834.40" y2="343.46" stroke="#111211" stroke-width="2.8"/>
<line x1="2077.50" y1="325.76" x2="2088.00" y2="325.76" stroke="#111211" stroke-width="2.8"/>
<line x1="2823.90" y1="325.76" x2="2834.40" y2="325.76" stroke="#111211" stroke-width="2.8"/>
<line x1="2077.50" y1="310.16" x2="2088.00" y2="310.16" stroke="#111211" stroke-width="2.8"/>
<line x1="2823.90" y1="310.16" x2="2834.40" y2="310.16" stroke="#111211" stroke-width="2.8"/>
<line x1="2077.50" y1="296.20" x2="2099.00" y2="296.20" stroke="#111211" stroke-width="2.8"/>
<line x1="2812.90" y1="296.20" x2="2834.40" y2="296.20" stroke="#111211" stroke-width="2.8"/>
<line x1="2077.50" y1="204.36" x2="2088.00" y2="204.36" stroke="#111211" stroke-width="2.8"/>
<line x1="2823.90" y1="204.36" x2="2834.40" y2="204.36" stroke="#111211" stroke-width="2.8"/>
<line x1="2077.50" y1="150.64" x2="2088.00" y2="150.64" stroke="#111211" stroke-width="2.8"/>
<line x1="2823.90" y1="150.64" x2="2834.40" y2="150.64" stroke="#111211" stroke-width="2.8"/>
<line x1="2077.50" y1="112.53" x2="2088.00" y2="112.53" stroke="#111211" stroke-width="2.8"/>
<line x1="2823.90" y1="112.53" x2="2834.40" y2="112.53" stroke="#111211" stroke-width="2.8"/>
<line x1="2077.50" y1="82.97" x2="2088.00" y2="82.97" stroke="#111211" stroke-width="2.8"/>
<line x1="2823.90" y1="82.97" x2="2834.40" y2="82.97" stroke="#111211" stroke-width="2.8"/>
<line x1="2077.50" y1="58.81" x2="2088.00" y2="58.81" stroke="#111211" stroke-width="2.8"/>
<line x1="2823.90" y1="58.81" x2="2834.40" y2="58.81" stroke="#111211" stroke-width="2.8"/>
<line x1="2077.50" y1="38.39" x2="2088.00" y2="38.39" stroke="#111211" stroke-width="2.8"/>
<line x1="2823.90" y1="38.39" x2="2834.40" y2="38.39" stroke="#111211" stroke-width="2.8"/>
<line x1="2077.50" y1="20.69" x2="2088.00" y2="20.69" stroke="#111211" stroke-width="2.8"/>
<line x1="2823.90" y1="20.69" x2="2834.40" y2="20.69" stroke="#111211" stroke-width="2.8"/>
<line x1="2077.50" y1="832.60" x2="2088.00" y2="832.60" stroke="#111211" stroke-width="2.8"/>
<line x1="2823.90" y1="832.60" x2="2834.40" y2="832.60" stroke="#111211" stroke-width="2.8"/>
<line x1="2077.50" y1="792.49" x2="2088.00" y2="792.49" stroke="#111211" stroke-width="2.8"/>
<line x1="2823.90" y1="792.49" x2="2834.40" y2="792.49" stroke="#111211" stroke-width="2.8"/>
<line x1="2077.50" y1="764.03" x2="2088.00" y2="764.03" stroke="#111211" stroke-width="2.8"/>
<line x1="2823.90" y1="764.03" x2="2834.40" y2="764.03" stroke="#111211" stroke-width="2.8"/>
<line x1="2077.50" y1="741.96" x2="2088.00" y2="741.96" stroke="#111211" stroke-width="2.8"/>
<line x1="2823.90" y1="741.96" x2="2834.40" y2="741.96" stroke="#111211" stroke-width="2.8"/>
<line x1="2077.50" y1="723.93" x2="2088.00" y2="723.93" stroke="#111211" stroke-width="2.8"/>
<line x1="2823.90" y1="723.93" x2="2834.40" y2="723.93" stroke="#111211" stroke-width="2.8"/>
<line x1="2077.50" y1="708.68" x2="2088.00" y2="708.68" stroke="#111211" stroke-width="2.8"/>
<line x1="2823.90" y1="708.68" x2="2834.40" y2="708.68" stroke="#111211" stroke-width="2.8"/>
<line x1="2077.50" y1="695.47" x2="2088.00" y2="695.47" stroke="#111211" stroke-width="2.8"/>
<line x1="2823.90" y1="695.47" x2="2834.40" y2="695.47" stroke="#111211" stroke-width="2.8"/>
<line x1="2077.50" y1="683.82" x2="2088.00" y2="683.82" stroke="#111211" stroke-width="2.8"/>
<line x1="2823.90" y1="683.82" x2="2834.40" y2="683.82" stroke="#111211" stroke-width="2.8"/>
<line x1="2077.50" y1="673.40" x2="2099.00" y2="673.40" stroke="#111211" stroke-width="2.8"/>
<line x1="2812.90" y1="673.40" x2="2834.40" y2="673.40" stroke="#111211" stroke-width="2.8"/>
<line x1="2077.50" y1="604.84" x2="2088.00" y2="604.84" stroke="#111211" stroke-width="2.8"/>
<line x1="2823.90" y1="604.84" x2="2834.40" y2="604.84" stroke="#111211" stroke-width="2.8"/>
<line x1="2077.50" y1="564.73" x2="2088.00" y2="564.73" stroke="#111211" stroke-width="2.8"/>
<line x1="2823.90" y1="564.73" x2="2834.40" y2="564.73" stroke="#111211" stroke-width="2.8"/>
<line x1="2077.50" y1="536.27" x2="2088.00" y2="536.27" stroke="#111211" stroke-width="2.8"/>
<line x1="2823.90" y1="536.27" x2="2834.40" y2="536.27" stroke="#111211" stroke-width="2.8"/>
<line x1="2077.50" y1="514.20" x2="2088.00" y2="514.20" stroke="#111211" stroke-width="2.8"/>
<line x1="2823.90" y1="514.20" x2="2834.40" y2="514.20" stroke="#111211" stroke-width="2.8"/>
<line x1="2077.50" y1="496.17" x2="2088.00" y2="496.17" stroke="#111211" stroke-width="2.8"/>
<line x1="2823.90" y1="496.17" x2="2834.40" y2="496.17" stroke="#111211" stroke-width="2.8"/>
<line x1="2077.50" y1="480.92" x2="2088.00" y2="480.92" stroke="#111211" stroke-width="2.8"/>
<line x1="2823.90" y1="480.92" x2="2834.40" y2="480.92" stroke="#111211" stroke-width="2.8"/>
<line x1="2077.50" y1="467.71" x2="2088.00" y2="467.71" stroke="#111211" stroke-width="2.8"/>
<line x1="2823.90" y1="467.71" x2="2834.40" y2="467.71" stroke="#111211" stroke-width="2.8"/>
<text transform="translate(1991.84 314.00) scale(1 1.025)" dx="1.92 -1.92" font-size="54" fill="#111211" stroke="#111211" stroke-width="0.3" clip-path="url(#c14)">10</text>
<text transform="translate(2019.17 414.00) scale(1 1.025)" font-size="54" fill="#111211" stroke="#111211" stroke-width="0.3">5</text>
<text transform="translate(2001.64 691.00) scale(1 1.025)" dx="1.92 -1.92" font-size="54" fill="#111211" stroke="#111211" stroke-width="0.3" clip-path="url(#c15)">10</text>
<text transform="translate(2040.57 919.95) scale(1 1.025)" dx="1.92" font-size="54" fill="#111211" stroke="#111211" stroke-width="0.3" clip-path="url(#c16)">1</text>
<text transform="translate(2130.42 951.50) scale(1 1.025)" dx="0 1.92 -1.92 0 0" font-size="54" fill="#111211" stroke="#111211" stroke-width="0.3" clip-path="url(#c17)">–1000</text>
<text transform="translate(2439.38 951.50) scale(1 1.025)" font-size="54" fill="#111211" stroke="#111211" stroke-width="0.3">0</text>
<text transform="translate(2643.14 951.50) scale(1 1.025)" dx="1.92 -1.92 0 0" font-size="54" fill="#111211" stroke="#111211" stroke-width="0.3" clip-path="url(#c18)">1000</text>
<text transform="translate(2609.98 1022.90) scale(1 1.025)" font-size="65" fill="#111211" stroke="#111211" stroke-width="0.3">Time [s]</text>
<text transform="translate(1984.55 247.20) rotate(-90) scale(1 1.03)" font-size="65" fill="#111211" stroke="#111211" stroke-width="0.3">E<tspan x="40.2" dy="12.91" font-size="47" stroke-width="0.6" font-family='"Liberation Serif", "DejaVu Serif", serif'>ν</tspan><tspan x="62.84" dy="-12.91"> [MeV]</tspan></text>
<text transform="translate(1984.55 698.80) rotate(-90) scale(1 1.03)" font-size="65" fill="#111211" stroke="#111211" stroke-width="0.3">E<tspan x="40.2" dy="12.91" font-size="47" stroke-width="0.6" font-family='"Liberation Serif", "DejaVu Serif", serif'>ν</tspan><tspan x="62.84" dy="-12.91"> [MeV]</tspan></text>
<text transform="translate(2103.50 68.95) scale(1 1.025)" dx="0 0 1.82 -1.82 0 0 0 0" font-size="51" fill="#3953a4" stroke="#3953a4" stroke-width="0.3" clip-path="url(#c19)">GW170608</text>
<text transform="translate(2149.30 132.55) scale(1 1.025)" font-size="48.7" fill="#111211" stroke="#111211" stroke-width="0.3">EH3 nH</text>
<text transform="translate(2133.90 556.65) scale(1 1.025)" font-size="48.7" fill="#111211" stroke="#111211" stroke-width="0.3">EH3 nGd</text>
<path d="M517.10 67.60L524.90 79.50L517.10 91.40L509.30 79.50Z" fill="none" stroke="#bf2a30" stroke-width="1.2" stroke-linejoin="miter" stroke-miterlimit="10"/>
<text transform="translate(563.60 97.45) scale(1 1.025)" font-size="48.7" fill="#111211" stroke="#111211" stroke-width="0.3">AD2</text>
<path d="M1486.40 39.05L1494.40 50.80L1486.40 62.55L1478.40 50.80Z" fill="#111211"/>
<path d="M1486.40 96.70L1494.20 108.60L1486.40 120.50L1478.60 108.60Z" fill="none" stroke="#bf2a30" stroke-width="1.2" stroke-linejoin="miter" stroke-miterlimit="10"/>
<text transform="translate(1532.70 62.95) scale(1 1.025)" dx="0 0 1.73" font-size="48.7" fill="#111211" stroke="#111211" stroke-width="0.3" clip-path="url(#c20)">AD1</text>
<text transform="translate(1532.70 121.15) scale(1 1.025)" font-size="48.7" fill="#111211" stroke="#111211" stroke-width="0.3">AD2</text>
<path d="M2431.80 39.05L2439.80 50.80L2431.80 62.55L2423.80 50.80Z" fill="#111211"/>
<path d="M2431.80 96.70L2439.60 108.60L2431.80 120.50L2424.00 108.60Z" fill="none" stroke="#bf2a30" stroke-width="1.2" stroke-linejoin="miter" stroke-miterlimit="10"/>
<text transform="translate(2454.40 62.95) scale(1 1.025)" dx="0 0 1.73" font-size="48.7" fill="#111211" stroke="#111211" stroke-width="0.3" clip-path="url(#c21)">AD1</text>
<text transform="translate(2454.40 121.15) scale(1 1.025)" font-size="48.7" fill="#111211" stroke="#111211" stroke-width="0.3">AD2</text>
<path d="M2620.10 38.90L2631.80 62.70L2608.40 62.70Z" fill="#3953a4"/>
<path d="M2620.00 96.60L2631.85 120.50L2608.15 120.50Z" fill="none" stroke="#6ab75a" stroke-width="1.0" stroke-linejoin="miter" stroke-miterlimit="10"/>
<text transform="translate(2643.20 62.95) scale(1 1.025)" font-size="48.7" fill="#111211" stroke="#111211" stroke-width="0.3">AD3</text>
<text transform="translate(2643.20 121.15) scale(1 1.025)" font-size="48.7" fill="#111211" stroke="#111211" stroke-width="0.3">AD4</text>
<path d="M1110.10 363.05L1118.10 374.80L1110.10 386.55L1102.10 374.80Z" fill="#111211"/>
<path d="M1458.20 377.55L1466.20 389.30L1458.20 401.05L1450.20 389.30Z" fill="#111211"/>
<path d="M1486.40 325.15L1494.40 336.90L1486.40 348.65L1478.40 336.90Z" fill="#111211"/>
<path d="M1646.50 363.05L1654.50 374.80L1646.50 386.55L1638.50 374.80Z" fill="#111211"/>
<path d="M1790.40 403.35L1798.40 415.10L1790.40 426.85L1782.40 415.10Z" fill="#111211"/>
<path d="M1857.90 356.65L1865.90 368.40L1857.90 380.15L1849.90 368.40Z" fill="#111211"/>
<path d="M1139.80 703.65L1147.80 715.40L1139.80 727.15L1131.80 715.40Z" fill="#111211"/>
<path d="M1320.40 757.15L1328.40 768.90L1320.40 780.65L1312.40 768.90Z" fill="#111211"/>
<path d="M1357.00 726.55L1365.00 738.30L1357.00 750.05L1349.00 738.30Z" fill="#111211"/>
<path d="M1398.80 707.15L1406.80 718.90L1398.80 730.65L1390.80 718.90Z" fill="#111211"/>
<path d="M1387.10 769.95L1395.10 781.70L1387.10 793.45L1379.10 781.70Z" fill="#111211"/>
<path d="M1438.90 719.25L1446.90 731.00L1438.90 742.75L1430.90 731.00Z" fill="#111211"/>
<path d="M1476.20 723.55L1484.20 735.30L1476.20 747.05L1468.20 735.30Z" fill="#111211"/>
<path d="M1482.70 724.65L1490.70 736.40L1482.70 748.15L1474.70 736.40Z" fill="#111211"/>
<path d="M1475.50 736.25L1483.50 748.00L1475.50 759.75L1467.50 748.00Z" fill="#111211"/>
<path d="M1469.20 753.75L1477.20 765.50L1469.20 777.25L1461.20 765.50Z" fill="#111211"/>
<path d="M1468.40 782.15L1476.40 793.90L1468.40 805.65L1460.40 793.90Z" fill="#111211"/>
<path d="M1580.70 741.05L1588.70 752.80L1580.70 764.55L1572.70 752.80Z" fill="#111211"/>
<path d="M1606.90 727.75L1614.90 739.50L1606.90 751.25L1598.90 739.50Z" fill="#111211"/>
<path d="M1587.80 779.65L1595.80 791.40L1587.80 803.15L1579.80 791.40Z" fill="#111211"/>
<path d="M1628.30 760.05L1636.30 771.80L1628.30 783.55L1620.30 771.80Z" fill="#111211"/>
<path d="M1641.10 816.75L1649.10 828.50L1641.10 840.25L1633.10 828.50Z" fill="#111211"/>
<path d="M1665.40 766.85L1673.40 778.60L1665.40 790.35L1657.40 778.60Z" fill="#111211"/>
<path d="M1685.40 746.45L1693.40 758.20L1685.40 769.95L1677.40 758.20Z" fill="#111211"/>
<path d="M1714.50 737.45L1722.50 749.20L1714.50 760.95L1706.50 749.20Z" fill="#111211"/>
<path d="M1715.20 704.45L1723.20 716.20L1715.20 727.95L1707.20 716.20Z" fill="#111211"/>
<path d="M1727.60 797.65L1735.60 809.40L1727.60 821.15L1719.60 809.40Z" fill="#111211"/>
<path d="M1757.60 714.65L1765.60 726.40L1757.60 738.15L1749.60 726.40Z" fill="#111211"/>
<path d="M1790.70 733.55L1798.70 745.30L1790.70 757.05L1782.70 745.30Z" fill="#111211"/>
<path d="M1815.70 798.15L1823.70 809.90L1815.70 821.65L1807.70 809.90Z" fill="#111211"/>
<path d="M2238.15 730.80L2246.15 742.55L2238.15 754.30L2230.15 742.55Z" fill="#111211"/>
<path d="M2309.50 787.50L2321.20 810.90L2297.80 810.90Z" fill="#3953a4"/>
<path d="M2425.50 766.90L2437.20 790.60L2413.80 790.60Z" fill="#3953a4"/>
<path d="M2099.80 754.00L2111.50 777.20L2088.10 777.20Z" fill="none" stroke="#6ab75a" stroke-width="1.15" stroke-linejoin="miter" stroke-miterlimit="10"/>
<path d="M2726.75 760.50L2738.45 783.50L2715.05 783.50Z" fill="none" stroke="#6ab75a" stroke-width="1.15" stroke-linejoin="miter" stroke-miterlimit="10"/>
<path d="M2706.40 780.10L2718.10 803.40L2694.70 803.40Z" fill="none" stroke="#6ab75a" stroke-width="1.15" stroke-linejoin="miter" stroke-miterlimit="10"/>
<path d="M459.40 377.40L467.20 389.30L459.40 401.20L451.60 389.30Z" fill="none" stroke="#bf2a30" stroke-width="1.2" stroke-linejoin="miter" stroke-miterlimit="10"/>
<path d="M510.60 356.40L518.40 368.30L510.60 380.20L502.80 368.30Z" fill="none" stroke="#bf2a30" stroke-width="1.2" stroke-linejoin="miter" stroke-miterlimit="10"/>
<path d="M706.30 367.20L714.10 379.10L706.30 391.00L698.50 379.10Z" fill="none" stroke="#bf2a30" stroke-width="1.2" stroke-linejoin="miter" stroke-miterlimit="10"/>
<path d="M751.70 403.20L759.50 415.10L751.70 427.00L743.90 415.10Z" fill="none" stroke="#bf2a30" stroke-width="1.2" stroke-linejoin="miter" stroke-miterlimit="10"/>
<path d="M877.90 389.50L885.70 401.40L877.90 413.30L870.10 401.40Z" fill="none" stroke="#bf2a30" stroke-width="1.2" stroke-linejoin="miter" stroke-miterlimit="10"/>
<path d="M886.40 389.80L894.20 401.70L886.40 413.60L878.60 401.70Z" fill="none" stroke="#bf2a30" stroke-width="1.2" stroke-linejoin="miter" stroke-miterlimit="10"/>
<path d="M1128.40 336.20L1136.20 348.10L1128.40 360.00L1120.60 348.10Z" fill="none" stroke="#bf2a30" stroke-width="1.2" stroke-linejoin="miter" stroke-miterlimit="10"/>
<path d="M1205.60 340.50L1213.40 352.40L1205.60 364.30L1197.80 352.40Z" fill="none" stroke="#bf2a30" stroke-width="1.2" stroke-linejoin="miter" stroke-miterlimit="10"/>
<path d="M1213.30 364.60L1221.10 376.50L1213.30 388.40L1205.50 376.50Z" fill="none" stroke="#bf2a30" stroke-width="1.2" stroke-linejoin="miter" stroke-miterlimit="10"/>
<path d="M1196.60 386.40L1204.40 398.30L1196.60 410.20L1188.80 398.30Z" fill="none" stroke="#bf2a30" stroke-width="1.2" stroke-linejoin="miter" stroke-miterlimit="10"/>
<path d="M1434.20 354.40L1442.00 366.30L1434.20 378.20L1426.40 366.30Z" fill="none" stroke="#bf2a30" stroke-width="1.2" stroke-linejoin="miter" stroke-miterlimit="10"/>
<path d="M1424.50 372.80L1432.30 384.70L1424.50 396.60L1416.70 384.70Z" fill="none" stroke="#bf2a30" stroke-width="1.2" stroke-linejoin="miter" stroke-miterlimit="10"/>
<path d="M1684.10 336.90L1691.90 348.80L1684.10 360.70L1676.30 348.80Z" fill="none" stroke="#bf2a30" stroke-width="1.2" stroke-linejoin="miter" stroke-miterlimit="10"/>
<path d="M1800.40 349.50L1808.20 361.40L1800.40 373.30L1792.60 361.40Z" fill="none" stroke="#bf2a30" stroke-width="1.2" stroke-linejoin="miter" stroke-miterlimit="10"/>
<path d="M188.00 736.10L195.80 748.00L188.00 759.90L180.20 748.00Z" fill="none" stroke="#bf2a30" stroke-width="1.25" stroke-linejoin="miter" stroke-miterlimit="10"/>
<path d="M193.60 741.20L201.40 753.10L193.60 765.00L185.80 753.10Z" fill="none" stroke="#bf2a30" stroke-width="1.25" stroke-linejoin="miter" stroke-miterlimit="10"/>
<path d="M218.20 746.30L226.00 758.20L218.20 770.10L210.40 758.20Z" fill="none" stroke="#bf2a30" stroke-width="1.25" stroke-linejoin="miter" stroke-miterlimit="10"/>
<path d="M230.60 719.10L238.40 731.00L230.60 742.90L222.80 731.00Z" fill="none" stroke="#bf2a30" stroke-width="1.25" stroke-linejoin="miter" stroke-miterlimit="10"/>
<path d="M248.30 723.90L256.10 735.80L248.30 747.70L240.50 735.80Z" fill="none" stroke="#bf2a30" stroke-width="1.25" stroke-linejoin="miter" stroke-miterlimit="10"/>
<path d="M259.00 765.00L266.80 776.90L259.00 788.80L251.20 776.90Z" fill="none" stroke="#bf2a30" stroke-width="1.25" stroke-linejoin="miter" stroke-miterlimit="10"/>
<path d="M291.40 757.40L299.20 769.30L291.40 781.20L283.60 769.30Z" fill="none" stroke="#bf2a30" stroke-width="1.25" stroke-linejoin="miter" stroke-miterlimit="10"/>
<path d="M307.30 737.50L315.10 749.40L307.30 761.30L299.50 749.40Z" fill="none" stroke="#bf2a30" stroke-width="1.25" stroke-linejoin="miter" stroke-miterlimit="10"/>
<path d="M348.00 747.70L355.80 759.60L348.00 771.50L340.20 759.60Z" fill="none" stroke="#bf2a30" stroke-width="1.25" stroke-linejoin="miter" stroke-miterlimit="10"/>
<path d="M353.60 733.40L361.40 745.30L353.60 757.20L345.80 745.30Z" fill="none" stroke="#bf2a30" stroke-width="1.25" stroke-linejoin="miter" stroke-miterlimit="10"/>
<path d="M399.50 703.80L407.30 715.70L399.50 727.60L391.70 715.70Z" fill="none" stroke="#bf2a30" stroke-width="1.25" stroke-linejoin="miter" stroke-miterlimit="10"/>
<path d="M457.30 683.40L465.10 695.30L457.30 707.20L449.50 695.30Z" fill="none" stroke="#bf2a30" stroke-width="1.25" stroke-linejoin="miter" stroke-miterlimit="10"/>
<path d="M459.40 707.20L467.20 719.10L459.40 731.00L451.60 719.10Z" fill="none" stroke="#bf2a30" stroke-width="1.25" stroke-linejoin="miter" stroke-miterlimit="10"/>
<path d="M457.30 769.80L465.10 781.70L457.30 793.60L449.50 781.70Z" fill="none" stroke="#bf2a30" stroke-width="1.25" stroke-linejoin="miter" stroke-miterlimit="10"/>
<path d="M569.90 753.60L577.70 765.50L569.90 777.40L562.10 765.50Z" fill="none" stroke="#bf2a30" stroke-width="1.25" stroke-linejoin="miter" stroke-miterlimit="10"/>
<path d="M609.20 759.60L617.00 771.50L609.20 783.40L601.40 771.50Z" fill="none" stroke="#bf2a30" stroke-width="1.25" stroke-linejoin="miter" stroke-miterlimit="10"/>
<path d="M608.50 780.30L616.30 792.20L608.50 804.10L600.70 792.20Z" fill="none" stroke="#bf2a30" stroke-width="1.25" stroke-linejoin="miter" stroke-miterlimit="10"/>
<path d="M618.50 782.00L626.30 793.90L618.50 805.80L610.70 793.90Z" fill="none" stroke="#bf2a30" stroke-width="1.25" stroke-linejoin="miter" stroke-miterlimit="10"/>
<path d="M636.40 766.70L644.20 778.60L636.40 790.50L628.60 778.60Z" fill="none" stroke="#bf2a30" stroke-width="1.25" stroke-linejoin="miter" stroke-miterlimit="10"/>
<path d="M703.20 725.10L711.00 737.00L703.20 748.90L695.40 737.00Z" fill="none" stroke="#bf2a30" stroke-width="1.25" stroke-linejoin="miter" stroke-miterlimit="10"/>
<path d="M751.70 816.90L759.50 828.80L751.70 840.70L743.90 828.80Z" fill="none" stroke="#bf2a30" stroke-width="1.25" stroke-linejoin="miter" stroke-miterlimit="10"/>
<path d="M796.30 697.00L804.10 708.90L796.30 720.80L788.50 708.90Z" fill="none" stroke="#bf2a30" stroke-width="1.25" stroke-linejoin="miter" stroke-miterlimit="10"/>
<path d="M805.60 704.70L813.40 716.60L805.60 728.50L797.80 716.60Z" fill="none" stroke="#bf2a30" stroke-width="1.25" stroke-linejoin="miter" stroke-miterlimit="10"/>
<path d="M826.70 728.00L834.50 739.90L826.70 751.80L818.90 739.90Z" fill="none" stroke="#bf2a30" stroke-width="1.25" stroke-linejoin="miter" stroke-miterlimit="10"/>
<path d="M838.10 714.50L845.90 726.40L838.10 738.30L830.30 726.40Z" fill="none" stroke="#bf2a30" stroke-width="1.25" stroke-linejoin="miter" stroke-miterlimit="10"/>
<path d="M867.90 797.70L875.70 809.60L867.90 821.50L860.10 809.60Z" fill="none" stroke="#bf2a30" stroke-width="1.25" stroke-linejoin="miter" stroke-miterlimit="10"/>
<path d="M1169.20 678.80L1177.00 690.70L1169.20 702.60L1161.40 690.70Z" fill="none" stroke="#bf2a30" stroke-width="1.25" stroke-linejoin="miter" stroke-miterlimit="10"/>
<path d="M1159.90 721.30L1167.70 733.20L1159.90 745.10L1152.10 733.20Z" fill="none" stroke="#bf2a30" stroke-width="1.25" stroke-linejoin="miter" stroke-miterlimit="10"/>
<path d="M1115.00 763.70L1122.80 775.60L1115.00 787.50L1107.20 775.60Z" fill="none" stroke="#bf2a30" stroke-width="1.25" stroke-linejoin="miter" stroke-miterlimit="10"/>
<path d="M1121.60 774.40L1129.40 786.30L1121.60 798.20L1113.80 786.30Z" fill="none" stroke="#bf2a30" stroke-width="1.25" stroke-linejoin="miter" stroke-miterlimit="10"/>
<path d="M1267.50 782.00L1275.30 793.90L1267.50 805.80L1259.70 793.90Z" fill="none" stroke="#bf2a30" stroke-width="1.25" stroke-linejoin="miter" stroke-miterlimit="10"/>
<path d="M1287.10 781.20L1294.90 793.10L1287.10 805.00L1279.30 793.10Z" fill="none" stroke="#bf2a30" stroke-width="1.25" stroke-linejoin="miter" stroke-miterlimit="10"/>
<path d="M1302.60 711.50L1310.40 723.40L1302.60 735.30L1294.80 723.40Z" fill="none" stroke="#bf2a30" stroke-width="1.25" stroke-linejoin="miter" stroke-miterlimit="10"/>
<path d="M1354.40 706.20L1362.20 718.10L1354.40 730.00L1346.60 718.10Z" fill="none" stroke="#bf2a30" stroke-width="1.25" stroke-linejoin="miter" stroke-miterlimit="10"/>
<path d="M1381.50 759.90L1389.30 771.80L1381.50 783.70L1373.70 771.80Z" fill="none" stroke="#bf2a30" stroke-width="1.25" stroke-linejoin="miter" stroke-miterlimit="10"/>
<path d="M1414.60 739.20L1422.40 751.10L1414.60 763.00L1406.80 751.10Z" fill="none" stroke="#bf2a30" stroke-width="1.25" stroke-linejoin="miter" stroke-miterlimit="10"/>
<path d="M1493.20 726.10L1501.00 738.00L1493.20 749.90L1485.40 738.00Z" fill="none" stroke="#bf2a30" stroke-width="1.25" stroke-linejoin="miter" stroke-miterlimit="10"/>
<path d="M1484.00 786.60L1491.80 798.50L1484.00 810.40L1476.20 798.50Z" fill="none" stroke="#bf2a30" stroke-width="1.25" stroke-linejoin="miter" stroke-miterlimit="10"/>
<path d="M1582.40 700.90L1590.20 712.80L1582.40 724.70L1574.60 712.80Z" fill="none" stroke="#bf2a30" stroke-width="1.25" stroke-linejoin="miter" stroke-miterlimit="10"/>
<path d="M1592.10 733.70L1599.90 745.60L1592.10 757.50L1584.30 745.60Z" fill="none" stroke="#bf2a30" stroke-width="1.25" stroke-linejoin="miter" stroke-miterlimit="10"/>
<path d="M1630.00 740.40L1637.80 752.30L1630.00 764.20L1622.20 752.30Z" fill="none" stroke="#bf2a30" stroke-width="1.25" stroke-linejoin="miter" stroke-miterlimit="10"/>
<path d="M1677.80 734.40L1685.60 746.30L1677.80 758.20L1670.00 746.30Z" fill="none" stroke="#bf2a30" stroke-width="1.25" stroke-linejoin="miter" stroke-miterlimit="10"/>
<path d="M1860.40 800.40L1868.20 812.30L1860.40 824.20L1852.60 812.30Z" fill="none" stroke="#bf2a30" stroke-width="1.25" stroke-linejoin="miter" stroke-miterlimit="10"/>
<path d="M2381.40 733.50L2389.20 745.40L2381.40 757.30L2373.60 745.40Z" fill="none" stroke="#bf2a30" stroke-width="1.25" stroke-linejoin="miter" stroke-miterlimit="10"/>
<path d="M2763.90 766.80L2771.70 778.70L2763.90 790.60L2756.10 778.70Z" fill="none" stroke="#bf2a30" stroke-width="1.25" stroke-linejoin="miter" stroke-miterlimit="10"/>
<defs><clipPath id="c0"><path clip-rule="evenodd" d="M-50 -65H110V27H-50ZM3.56 -5.03H15.20V3H3.56ZM20.57 -5.03H30.93V3H20.57Z"/></clipPath><clipPath id="c1"><path clip-rule="evenodd" d="M-50 -65H110V27H-50ZM3.56 -5.03H15.20V3H3.56ZM20.57 -5.03H30.93V3H20.57Z"/></clipPath><clipPath id="c2"><path clip-rule="evenodd" d="M-50 -65H80V27H-50ZM3.56 -5.03H15.20V3H3.56ZM20.57 -5.03H30.93V3H20.57Z"/></clipPath><clipPath id="c3"><path clip-rule="evenodd" d="M-50 -65H200V27H-50ZM33.59 -5.03H45.23V3H33.59ZM50.61 -5.03H60.96V3H50.61Z"/></clipPath><clipPath id="c4"><path clip-rule="evenodd" d="M-50 -65H170V27H-50ZM3.56 -5.03H15.20V3H3.56ZM20.57 -5.03H30.93V3H20.57Z"/></clipPath><clipPath id="c5"><path clip-rule="evenodd" d="M-50 -61H308V26H-50ZM91.11 -4.81H102.15V3H91.11ZM107.25 -4.81H117.01V3H107.25Z"/></clipPath><clipPath id="c6"><path clip-rule="evenodd" d="M-50 -58H221V24H-50ZM70.76 -4.64H81.33V3H70.76ZM86.24 -4.64H95.54V3H86.24Z"/></clipPath><clipPath id="c7"><path clip-rule="evenodd" d="M-50 -58H250V24H-50ZM70.76 -4.64H81.33V3H70.76ZM86.24 -4.64H95.54V3H86.24Z"/></clipPath><clipPath id="c8"><path clip-rule="evenodd" d="M-50 -65H110V27H-50ZM3.56 -5.03H15.20V3H3.56ZM20.57 -5.03H30.93V3H20.57Z"/></clipPath><clipPath id="c9"><path clip-rule="evenodd" d="M-50 -65H110V27H-50ZM3.56 -5.03H15.20V3H3.56ZM20.57 -5.03H30.93V3H20.57Z"/></clipPath><clipPath id="c10"><path clip-rule="evenodd" d="M-50 -65H80V27H-50ZM3.56 -5.03H15.20V3H3.56ZM20.57 -5.03H30.93V3H20.57Z"/></clipPath><clipPath id="c11"><path clip-rule="evenodd" d="M-50 -65H200V27H-50ZM33.59 -5.03H45.23V3H33.59ZM50.61 -5.03H60.96V3H50.61Z"/></clipPath><clipPath id="c12"><path clip-rule="evenodd" d="M-50 -65H170V27H-50ZM3.56 -5.03H15.20V3H3.56ZM20.57 -5.03H30.93V3H20.57Z"/></clipPath><clipPath id="c13"><path clip-rule="evenodd" d="M-50 -61H308V26H-50ZM91.11 -4.81H102.15V3H91.11ZM107.25 -4.81H117.01V3H107.25Z"/></clipPath><clipPath id="c14"><path clip-rule="evenodd" d="M-50 -65H110V27H-50ZM3.56 -5.03H15.20V3H3.56ZM20.57 -5.03H30.93V3H20.57Z"/></clipPath><clipPath id="c15"><path clip-rule="evenodd" d="M-50 -65H110V27H-50ZM3.56 -5.03H15.20V3H3.56ZM20.57 -5.03H30.93V3H20.57Z"/></clipPath><clipPath id="c16"><path clip-rule="evenodd" d="M-50 -65H80V27H-50ZM3.56 -5.03H15.20V3H3.56ZM20.57 -5.03H30.93V3H20.57Z"/></clipPath><clipPath id="c17"><path clip-rule="evenodd" d="M-50 -65H200V27H-50ZM33.59 -5.03H45.23V3H33.59ZM50.61 -5.03H60.96V3H50.61Z"/></clipPath><clipPath id="c18"><path clip-rule="evenodd" d="M-50 -65H170V27H-50ZM3.56 -5.03H15.20V3H3.56ZM20.57 -5.03H30.93V3H20.57Z"/></clipPath><clipPath id="c19"><path clip-rule="evenodd" d="M-50 -61H308V26H-50ZM91.11 -4.81H102.15V3H91.11ZM107.25 -4.81H117.01V3H107.25Z"/></clipPath><clipPath id="c20"><path clip-rule="evenodd" d="M-50 -58H145V24H-50ZM70.76 -4.64H81.33V3H70.76ZM86.24 -4.64H95.54V3H86.24Z"/></clipPath><clipPath id="c21"><path clip-rule="evenodd" d="M-50 -58H145V24H-50ZM70.76 -4.64H81.33V3H70.76ZM86.24 -4.64H95.54V3H86.24Z"/></clipPath></defs>
</svg>
</body></html>
